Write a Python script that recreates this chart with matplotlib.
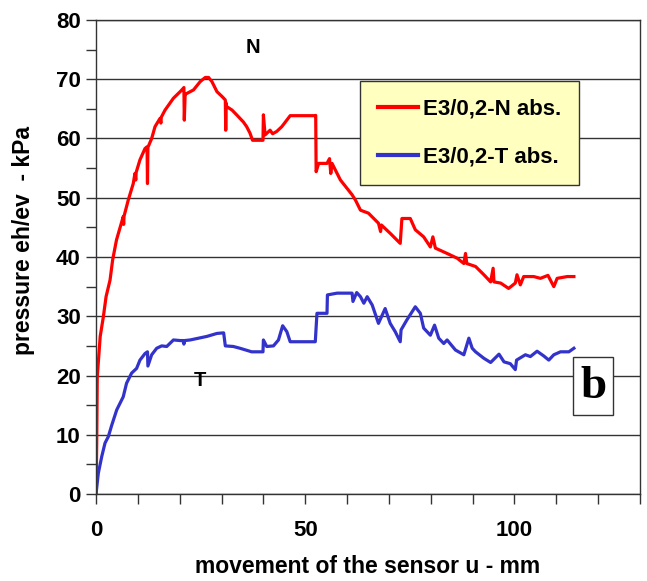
import matplotlib as mpl
import numpy as np

mpl.use('Agg')
from matplotlib import pyplot as plt
from matplotlib.patches import Rectangle
from matplotlib.ticker import MultipleLocator

plt.rcParams['font.family'] = ['Liberation Sans', 'DejaVu Sans']

# E3/0,2 normal pressure: sensor movement (mm), pressure (kPa)
n_u = [0, 0.17, 0.3, 1.0, 1.75, 2.4, 3.35, 3.97, 4.9, 6.5, 6.6, 6.7, 7.7, 8.9, 9.3,
       9.5, 9.6, 10.5, 11.7, 12.2, 12.3, 12.4, 13.3, 14.1, 15.3, 15.5, 15.6, 16.5,
       18.5, 20.1, 20.9, 21.0, 21.1, 21.3, 21.7, 23.3, 24.9, 26.1, 26.9, 27.7,
       28.9, 30.1, 30.9, 31.0, 31.1, 31.2, 32.5, 33.6, 35.2, 36.0, 36.8, 37.4,
       39.6, 39.9, 40.0, 40.4, 41.6, 42.2, 43.2, 44.4, 46.4, 52.4, 52.5, 52.6,
       53.2, 55.2, 55.8, 56.1, 56.4, 58.4, 61.2, 62.0, 63.2, 65.1, 67.5, 68.0,
       68.2, 70.3, 72.7, 73.1, 75.1, 76.3, 78.3, 79.9, 80.5, 81.1, 83.9, 86.3,
       87.9, 88.3, 88.6, 90.7, 92.7, 94.3, 94.9, 95.1, 96.7, 98.6, 100.2, 100.6,
       101.4, 102.2, 104.6, 106.2, 108.0, 109.4, 110.2, 112.6, 114.2]
n_p = [0, 8.6, 19.8, 26.6, 29.9, 33.3, 36.1, 39.5, 42.9, 46.8, 45.5, 46.9, 49.6, 52.4,
       54.1, 53.0, 54.3, 56.4, 58.3, 58.6, 52.4, 58.5, 60.0, 62.0, 63.4, 62.6,
       63.6, 64.8, 66.8, 67.9, 68.5, 68.6, 63.1, 67.5, 67.6, 68.2, 69.6, 70.3,
       70.3, 69.6, 67.9, 67.1, 66.5, 61.4, 66.0, 65.4, 64.8, 64.0, 62.8, 62.0,
       60.9, 59.7, 59.7, 59.7, 64.0, 60.6, 61.4, 60.8, 61.2, 62.0, 63.85, 63.85,
       63.9, 54.4, 55.8, 55.8, 56.6, 54.1, 55.8, 53.0, 50.5, 49.6, 47.9, 47.4,
       45.7, 44.3, 45.4, 44.0, 42.3, 46.5, 46.5, 44.6, 43.4, 41.7, 43.4, 41.5,
       40.6, 39.8, 38.9, 40.6, 38.9, 38.4, 37.0, 35.8, 38.1, 35.8, 35.6, 34.7,
       35.6, 37.0, 35.3, 36.7, 36.7, 36.4, 36.9, 35.0, 36.4, 36.7, 36.7]

# E3/0,2 tangential pressure
t_u = [0, 0.55, 1.36, 2.15, 2.95, 3.75, 4.95, 6.5, 7.3, 8.5, 9.7, 10.5, 11.7, 12.3,
       12.4, 13.3, 14.5, 15.7, 16.9, 18.5, 20.1, 20.8, 21.0, 21.2, 22.5, 26.5,
       28.9, 30.5, 30.9, 32.8, 34.4, 37.2, 39.9, 40.0, 40.8, 42.4, 43.6, 44.6,
       45.6, 46.4, 52.4, 52.8, 55.2, 55.3, 57.6, 61.2, 61.4, 62.3, 63.2, 64.0,
       64.8, 66.0, 67.5, 69.1, 70.3, 71.5, 72.7, 72.9, 74.3, 76.3, 77.5, 78.3,
       79.9, 80.9, 81.9, 83.1, 83.9, 85.9, 87.9, 89.1, 89.9, 90.7, 92.7, 94.3,
       96.3, 97.5, 99.0, 100.2, 100.5, 102.6, 103.8, 105.4, 107.0, 108.2, 109.4,
       111.0, 113.0, 114.2]
t_p = [0, 3.5, 6.3, 8.6, 9.7, 11.6, 14.2, 16.4, 18.7, 20.4, 21.2, 22.6, 23.7, 24.0,
       21.6, 23.5, 24.6, 25.0, 24.9, 26.0, 25.9, 25.9, 25.3, 25.9, 26.0, 26.6,
       27.1, 27.2, 25.0, 24.9, 24.6, 24.0, 24.0, 26.0, 24.9, 25.0, 26.0, 28.4,
       27.4, 25.7, 25.7, 30.5, 30.5, 33.6, 33.9, 33.9, 32.5, 34.0, 33.3, 32.2,
       33.3, 31.9, 28.8, 31.3, 28.8, 27.4, 25.7, 27.7, 29.4, 31.6, 30.5, 28.0,
       26.8, 28.5, 26.3, 25.4, 26.0, 24.3, 23.5, 26.3, 24.6, 24.0, 22.9, 22.2,
       23.6, 22.3, 22.0, 21.0, 22.6, 23.5, 23.2, 24.1, 23.3, 22.6, 23.5, 24.0,
       24.0, 24.6]

fig = plt.figure(figsize=(6.47, 5.81), dpi=100)
ax = fig.add_axes([0.1484, 0.1497, 0.8408, 0.8159])

ax.plot(n_u, n_p, color='#ff0000', lw=2.3, label='E3/0,2-N abs.', solid_joinstyle='round')
ax.plot(t_u, t_p, color='#3333cc', lw=2.3, label='E3/0,2-T abs.', solid_joinstyle='round')

ax.set_xlim(0, 130)
ax.set_ylim(0, 80)
ax.xaxis.set_major_locator(MultipleLocator(50))
ax.xaxis.set_minor_locator(MultipleLocator(10))
ax.yaxis.set_major_locator(MultipleLocator(10))
ax.yaxis.set_minor_locator(MultipleLocator(5))
ax.grid(axis='y', which='major', color='#333333', lw=1.0)
ax.set_axisbelow(True)
for s in ax.spines.values():
    s.set_color('#333333')
    s.set_linewidth(1.0)
ax.tick_params(which='both', direction='out', length=7, width=1.0, color='#333333')
ax.tick_params(axis='y', pad=4, labelsize=16)
ax.tick_params(axis='x', pad=12, labelsize=16)
for lab in ax.get_xticklabels() + ax.get_yticklabels():
    lab.set_fontweight('bold')

ax.set_xlabel('movement of the sensor u - mm', fontsize=16.5, fontweight='bold', labelpad=10)
ax.set_ylabel('pressure eh/ev  - kPa', fontsize=16.5, fontweight='bold')
ax.yaxis.set_label_coords(-0.112, 0.534)

ax.text(37.6, 75.3, 'N', fontsize=14.5, fontweight='bold', ha='center', va='center')
ax.text(24.9, 19.2, 'T', fontsize=14.5, fontweight='bold', ha='center', va='center')

# panel letter in a framed box
ax.add_patch(Rectangle((0.877, 0.167), 0.0735, 0.122, transform=ax.transAxes,
                       facecolor='white', edgecolor='#333333', lw=1.0, zorder=4))
ax.text(0.9137, 0.226, 'b', transform=ax.transAxes, fontsize=34, fontweight='bold',
        family='Liberation Serif', ha='center', va='center', zorder=5)

leg = ax.legend(loc='upper left', bbox_to_anchor=(0.485, 0.871),
                prop={'weight': 'bold', 'size': 16}, fancybox=False, shadow=False,
                framealpha=1, facecolor='#ffffc0', edgecolor='#333333',
                handlelength=1.8, handletextpad=0.25, labelspacing=1.2,
                borderpad=0.8, borderaxespad=0)
leg.get_frame().set_linewidth(1.0)
for line in leg.get_lines():
    line.set_linewidth(3)

fig.savefig('out.png', dpi=100)
